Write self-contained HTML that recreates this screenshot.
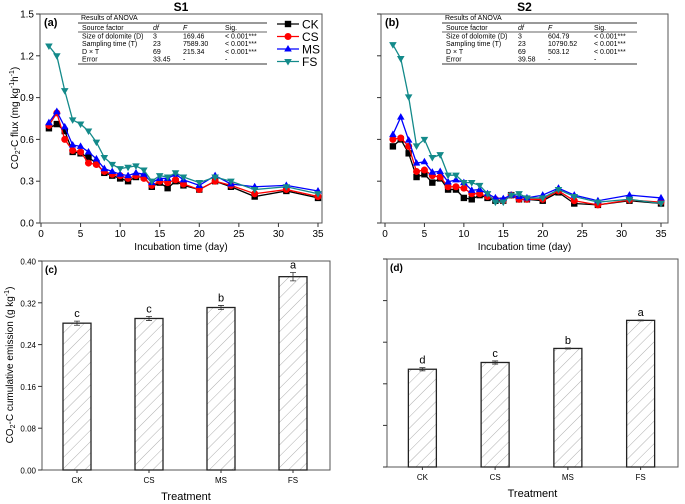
<!DOCTYPE html>
<html><head><meta charset="utf-8"><style>
body{margin:0;background:#fff;}
svg{display:block;font-family:"Liberation Sans",sans-serif;}
</style></head><body>
<svg id="fig" width="685" height="504" viewBox="0 0 685 504" xmlns="http://www.w3.org/2000/svg"></svg>
<script>
const days=[1,2,3,4,5,6,7,8,9,10,11,12,13,14,15,16,17,18,20,22,24,27,31,35];
const s1CK=[.68,.71,.66,.51,.50,.47,.43,.36,.34,.32,.30,.33,.33,.26,.29,.25,.30,.27,.24,.30,.26,.19,.23,.18];
const s1CS=[.70,.79,.60,.52,.51,.43,.42,.37,.35,.34,.32,.34,.32,.27,.30,.29,.31,.28,.24,.30,.27,.21,.24,.19];
const s1MS=[.72,.80,.69,.56,.55,.51,.46,.39,.37,.35,.34,.36,.35,.29,.32,.32,.35,.31,.27,.34,.28,.26,.27,.23];
const s1FS=[1.27,1.20,.95,.74,.71,.66,.58,.47,.42,.39,.40,.41,.38,.30,.34,.33,.36,.33,.29,.33,.30,.24,.26,.21];
const s2CK=[.55,.60,.50,.33,.35,.29,.32,.24,.24,.18,.17,.20,.18,.16,.16,.20,.17,.17,.16,.22,.14,.13,.16,.14];
const s2CS=[.60,.61,.55,.37,.38,.34,.33,.26,.26,.25,.21,.21,.19,.17,.16,.20,.17,.17,.17,.23,.16,.13,.165,.15];
const s2MS=[.635,.76,.595,.43,.44,.365,.37,.295,.31,.29,.235,.24,.21,.18,.175,.20,.19,.18,.20,.25,.20,.16,.20,.18];
const s2FS=[1.28,1.18,.905,.553,.60,.47,.49,.343,.343,.29,.29,.27,.21,.15,.15,.20,.21,.18,.18,.24,.19,.15,.17,.14];
const treatments=["CK","CS","MS","FS"];
const s1Cum=[.281,.290,.311,.370];
const s1CumErr=[.004,.004,.004,.008];
const s2Cum=[.188,.201,.228,.282];
const s2CumErr=[.003,.003,.001,.001];
const s1Letters=["c","c","b","a"];
const s2Letters=["d","c","b","a"];
const xTicks=[0,5,10,15,20,25,30,35];
const fluxTicks=[0,0.3,0.6,0.9,1.2,1.5];
const cumTicks=[0,0.08,0.16,0.24,0.32,0.40];
const anova1=[["Size of dolomite (D)","3","169.46","< 0.001***"],["Sampling time (T)","23","7589.30","< 0.001***"],["D × T","69","215.34","< 0.001***"],["Error","33.45","-","-"]];
const anova2=[["Size of dolomite (D)","3","604.79","< 0.001***"],["Sampling time (T)","23","10790.52","< 0.001***"],["D × T","69","503.12","< 0.001***"],["Error","39.58","-","-"]];

const svg=document.getElementById('fig');
const NS='http://www.w3.org/2000/svg';
function mk(tag,attrs,parent,text){const e=document.createElementNS(NS,tag);for(const k in attrs)e.setAttribute(k,attrs[k]);if(text!==undefined)e.textContent=text;(parent||svg).appendChild(e);return e;}

const defs=mk('defs',{});
const pat=mk('pattern',{id:'hatch',patternUnits:'userSpaceOnUse',width:8,height:8,patternTransform:'rotate(45)'},defs);
mk('line',{x1:0,y1:0,x2:0,y2:8,stroke:'#999','stroke-width':0.8},pat);

const colors={CK:'#000',CS:'#f00',MS:'#00f',FS:'#138a8a'};

function linePanel(p){
  const g=mk('g',{});
  
  
  const xs=d=>p.x0+(d/35)*(p.x35-p.x0);
  const ys=v=>p.bottom-(v/1.5)*(p.bottom-p.top);
  mk('rect',{x:p.left,y:p.top,width:p.right-p.left,height:p.bottom-p.top,fill:'none',stroke:'#555','stroke-width':1},g);
  xTicks.forEach(t=>{const x=xs(t);mk('line',{x1:x,y1:p.bottom,x2:x,y2:p.bottom+4,stroke:'#333'},g);mk('text',{x:x,y:p.bottom+14,'font-size':10,'text-anchor':'middle'},g,t);});
  fluxTicks.forEach(t=>{const y=ys(t);mk('line',{x1:p.left-4,y1:y,x2:p.left,y2:y,stroke:'#333'},g);if(p.labels)mk('text',{x:p.left-6,y:y+3.5,'font-size':10,'text-anchor':'end'},g,t.toFixed(1));});
  const order=['CK','CS','MS','FS'];
  order.forEach(k=>{
    const vals=p.series[k];
    const sg=mk('g',{},g);
    
    
    mk('polyline',{points:days.map((d,i)=>xs(d)+','+ys(vals[i])).join(' '),fill:'none',stroke:colors[k],'stroke-width':1.3},sg);
    days.forEach((d,i)=>marker(sg,k,xs(d),ys(vals[i]),3.2));
  });
  mk('text',{x:p.left+4,y:p.top+12,'font-size':11,'font-weight':'bold'},g,p.tag);
  mk('text',{x:(p.left+p.right)/2,y:11,'font-size':12,'font-weight':'bold','text-anchor':'middle'},g,p.title);
  mk('text',{x:(p.left+p.right)/2,y:250,'font-size':10,'text-anchor':'middle'},g,'Incubation time (day)');
  // table
  const t=p.tbl, tg=mk('g',{},g);
  
  
  mk('text',{x:t.x+3,y:20,'font-size':7},tg,'Results of ANOVA');
  [23,32,64].forEach((y,i)=>mk('line',{x1:t.x,y1:y,x2:t.x2,y2:y,stroke:'#333','stroke-width':i==1?0.7:1},tg));
  const hdr=['Source factor','df','F','Sig.'];
  hdr.forEach((h,i)=>mk('text',{x:t.cols[i],y:30,'font-size':7,'font-style':i==1||i==2?'italic':'normal'},tg,h));
  p.anova.forEach((r,j)=>r.forEach((c,i)=>mk('text',{x:t.cols[i],y:38.5+j*7.7,'font-size':7},tg,c)));
}
function marker(g,k,x,y,r){
  const c=colors[k];
  if(k==='CK')mk('rect',{x:x-r,y:y-r,width:2*r,height:2*r,fill:c},g);
  else if(k==='CS')mk('circle',{cx:x,cy:y,r:r+0.3,fill:c},g);
  else if(k==='MS')mk('polygon',{points:`${x},${y-r-0.8} ${x-r-0.6},${y+r*0.8} ${x+r+0.6},${y+r*0.8}`,fill:c},g);
  else mk('polygon',{points:`${x},${y+r+0.8} ${x-r-0.6},${y-r*0.8} ${x+r+0.6},${y-r*0.8}`,fill:c},g);
}
linePanel({name:'panel-a',tag:'(a)',title:'S1',left:40,right:322,top:14,bottom:223,x0:41,x35:318,labels:true,
  series:{CK:s1CK,CS:s1CS,MS:s1MS,FS:s1FS},anova:anova1,tbl:{x:78,x2:267,cols:[82,153,183,225]}});
linePanel({name:'panel-b',tag:'(b)',title:'S2',left:381,right:668,top:14,bottom:223,x0:385,x35:661,labels:false,
  series:{CK:s2CK,CS:s2CS,MS:s2MS,FS:s2FS},anova:anova2,tbl:{x:442,x2:637,cols:[446,518,548,594]}});
// legend
const lg=mk('g',{});


['CK','CS','MS','FS'].forEach((k,i)=>{
  const y=24+i*12.5;
  const e=mk('g',{},lg);
  
  
  mk('line',{x1:277,y1:y,x2:299,y2:y,stroke:colors[k],'stroke-width':1.3},e);
  marker(e,k,288,y,3.2);
  mk('text',{x:302,y:y+4.5,'font-size':12},e,k);
});
mk('text',{x:0,y:0,'font-size':10,'text-anchor':'middle',transform:'translate(18,118) rotate(-90)'},svg).innerHTML='CO<tspan font-size="7" dy="2">2</tspan><tspan dy="-2">-C flux (mg kg</tspan><tspan font-size="7" dy="-4">-1</tspan><tspan dy="4">h</tspan><tspan font-size="7" dy="-4">-1</tspan><tspan dy="4">)</tspan>';

function barPanel(p){
  const g=mk('g',{});
  
  
  const ys=v=>p.bottom-(v/0.4)*(p.bottom-p.top);
  mk('rect',{x:p.left,y:p.top,width:p.right-p.left,height:p.bottom-p.top,fill:'none',stroke:'#555','stroke-width':1},g);
  cumTicks.forEach(t=>{const y=ys(t);mk('line',{x1:p.left-4,y1:y,x2:p.left,y2:y,stroke:'#333'},g);if(p.labels)mk('text',{x:p.left-6,y:y+3.5,'font-size':8,'text-anchor':'end'},g,t.toFixed(2));});
  const step=(p.right-p.left)/4;
  treatments.forEach((tr,i)=>{
    const cx=p.left+step*(i+0.5)-1, w=28, v=p.vals[i], y=ys(v);
    const b=mk('rect',{x:cx-w/2,y:y,width:w,height:p.bottom-y,fill:'url(#hatch)',stroke:'#222','stroke-width':1.3},g);
    
    
    const e=p.err[i];
    mk('path',{d:`M${cx},${ys(v+e)}V${ys(v-e)}M${cx-3},${ys(v+e)}H${cx+3}M${cx-3},${ys(v-e)}H${cx+3}`,stroke:'#333','stroke-width':0.8,fill:'none'},g);
    mk('text',{x:cx,y:ys(v+e)-4,'font-size':11,'text-anchor':'middle'},g,p.letters[i]);
    mk('line',{x1:cx,y1:p.bottom,x2:cx,y2:p.bottom+3,stroke:'#333'},g);
    mk('text',{x:cx,y:p.bottom+13,'font-size':8,'text-anchor':'middle'},g,tr);
  });
  mk('text',{x:p.left+3,y:p.top+12,'font-size':10,'font-weight':'bold'},g,p.tag);
  mk('text',{x:(p.left+p.right)/2,y:p.bottom+30,'font-size':11,'text-anchor':'middle'},g,'Treatment');
}
barPanel({name:'panel-c',tag:'(c)',left:42,right:330,top:261,bottom:470,vals:s1Cum,err:s1CumErr,letters:s1Letters,labels:true});
barPanel({name:'panel-d',tag:'(d)',left:387,right:678,top:259,bottom:467,vals:s2Cum,err:s2CumErr,letters:s2Letters,labels:false});
mk('text',{x:0,y:0,'font-size':10,'text-anchor':'middle',transform:'translate(13,365) rotate(-90)'},svg).innerHTML='CO<tspan font-size="7" dy="2">2</tspan><tspan dy="-2">-C cumulative  emission (g kg</tspan><tspan font-size="7" dy="-4">-1</tspan><tspan dy="4">)</tspan>';
</script>
</body></html>
